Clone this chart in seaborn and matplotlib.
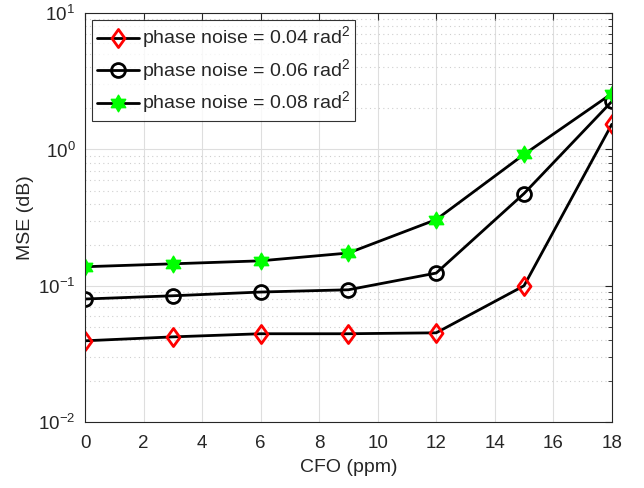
import matplotlib
matplotlib.use("Agg")
import matplotlib.pyplot as plt
import matplotlib.ticker as mticker
from matplotlib.path import Path
import pandas as pd
import numpy as np
import seaborn as sns

# data
cfo = [0, 3, 6, 9, 12, 15, 18]
mse_004 = [0.0395, 0.0422, 0.0445, 0.0445, 0.0452, 0.100, 1.53]
mse_006 = [0.080, 0.0845, 0.090, 0.0935, 0.124, 0.475, 2.25]
mse_008 = [0.138, 0.145, 0.1525, 0.174, 0.306, 0.92, 2.57]
labels = ["phase noise = 0.04 rad$^2$", "phase noise = 0.06 rad$^2$", "phase noise = 0.08 rad$^2$"]

sns.set_style("white")
plt.rcParams['font.family'] = ['Liberation Sans', 'DejaVu Sans']
plt.rcParams['mathtext.fontset'] = 'custom'
plt.rcParams['mathtext.rm'] = 'Liberation Sans'

fig = plt.figure(figsize=(6.44, 4.88), dpi=100)
ax = fig.add_axes([0.132, 0.135, 0.818, 0.838])

df = pd.DataFrame({"cfo": cfo * 3,
                   "mse": mse_004 + mse_006 + mse_008,
                   "series": [labels[0]] * 7 + [labels[1]] * 7 + [labels[2]] * 7})

# matlab-like diamond (a bit taller than wide)
diamond = Path([(0, 1), (0.72, 0), (0, -1), (-0.72, 0), (0, 1)],
               [Path.MOVETO, Path.LINETO, Path.LINETO, Path.LINETO, Path.CLOSEPOLY])
# hexagram (star of david outline)
ang = np.deg2rad(90 + 30 * np.arange(12))
rad = np.where(np.arange(12) % 2 == 0, 1.0, 1 / np.sqrt(3))
hv = list(zip(rad * np.cos(ang), rad * np.sin(ang))) + [(0, 1)]
hexagram = Path(hv, [Path.MOVETO] + [Path.LINETO] * 11 + [Path.CLOSEPOLY])

styles = [
    dict(marker=diamond, markersize=13, markerfacecolor="none", markeredgecolor="#ff0000", markeredgewidth=2),
    dict(marker="o", markersize=10, markerfacecolor="none", markeredgecolor="black", markeredgewidth=2),
    dict(marker=hexagram, markersize=12, markerfacecolor="#00ff00", markeredgecolor="#00ff00", markeredgewidth=1),
]
for lab, st in zip(labels, styles):
    sub = df[df.series == lab]
    sns.lineplot(data=sub, x="cfo", y="mse", ax=ax, color="black", linewidth=2,
                 label=lab, **st)

ax.set_yscale("log")
ax.set_xlim(0, 18)
ax.set_ylim(1e-2, 1e1)
ax.set_xticks(range(0, 19, 2))
ax.yaxis.set_major_locator(mticker.LogLocator(base=10, numticks=10))
ax.yaxis.set_minor_locator(mticker.LogLocator(base=10, subs=np.arange(2, 10), numticks=20))
ax.yaxis.set_minor_formatter(mticker.NullFormatter())

ax.grid(True, which="major", color="#dedede", linewidth=0.8, linestyle="-")
ax.grid(True, which="minor", axis="y", color="#cfcfcf", linewidth=0.8, linestyle=(0, (1, 3)))
ax.set_axisbelow(True)

ax.tick_params(which="both", direction="in", top=True, right=True, labelsize=13.5, colors="#262626")
ax.tick_params(which="major", length=5)
ax.tick_params(which="minor", length=3)
ax.tick_params(axis="x", pad=9)
ax.tick_params(axis="y", pad=7)
for s in ax.spines.values():
    s.set_color("#262626")
    s.set_linewidth(0.8)

ax.set_xlabel("CFO (ppm)", fontsize=14, color="#262626", labelpad=5)
ax.set_ylabel("MSE (dB)", fontsize=14, color="#262626", labelpad=3)

leg = ax.legend(loc="upper left", fontsize=14, frameon=True, fancybox=False,
                edgecolor="black", borderpad=0.25, handlelength=2.2, handletextpad=0.15,
                labelspacing=0.3, borderaxespad=0.35)
leg.get_frame().set_linewidth(0.8)

fig.savefig("out.png", dpi=100)
